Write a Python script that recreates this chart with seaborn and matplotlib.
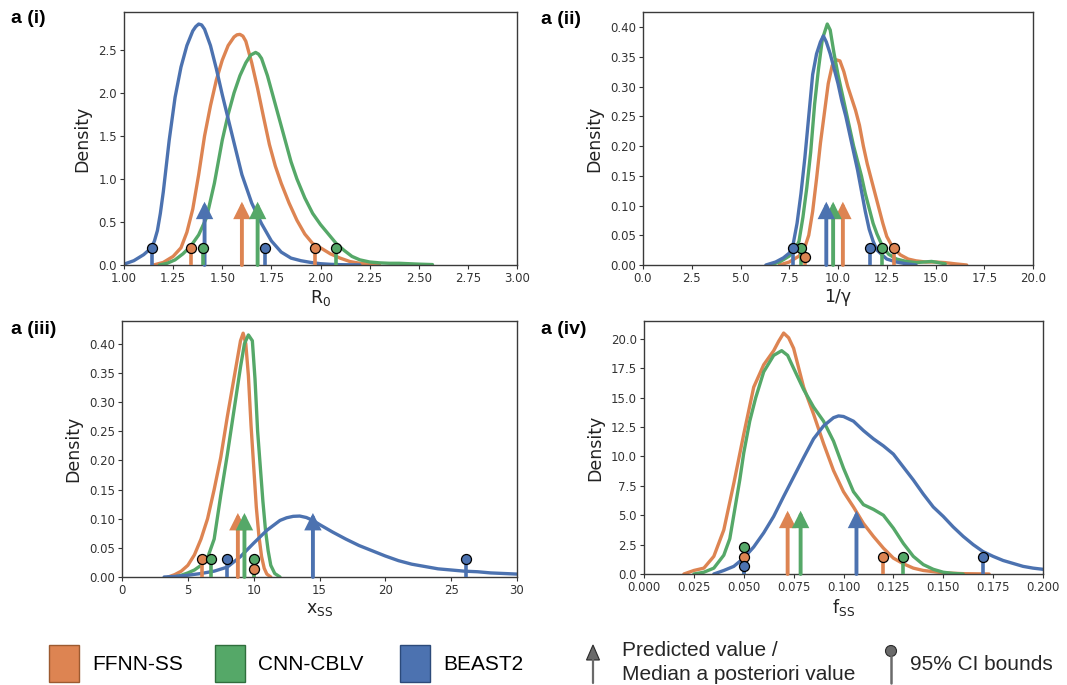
import numpy as np
import pandas as pd
import matplotlib
matplotlib.use("Agg")
import matplotlib.pyplot as plt
import seaborn as sns
from matplotlib.patches import Rectangle, Polygon, Circle

# ---------------------------------------------------------------- data
METHODS = ["FFNN-SS", "CNN-CBLV", "BEAST2"]

# Panel a(i): R0
R0_FFNN_X = [1.15, 1.20, 1.25, 1.29, 1.32, 1.35, 1.38, 1.41, 1.44, 1.47, 1.50, 1.53, 1.56, 1.575, 1.59, 1.605,
             1.62, 1.65, 1.68, 1.71, 1.74, 1.77, 1.80, 1.84, 1.88, 1.92, 1.96, 2.00, 2.05, 2.10, 2.15, 2.20,
             2.25, 2.30]
R0_FFNN_Y = [0.0, 0.03, 0.1, 0.2, 0.38, 0.65, 1.05, 1.5, 1.85, 2.15, 2.38, 2.55, 2.65, 2.675, 2.68, 2.66,
             2.6, 2.35, 2.05, 1.72, 1.4, 1.15, 0.95, 0.72, 0.52, 0.36, 0.25, 0.2, 0.13, 0.08, 0.04, 0.02,
             0.01, 0.003]
R0_CNN_X = [1.18, 1.22, 1.26, 1.30, 1.34, 1.38, 1.42, 1.46, 1.50, 1.53, 1.56, 1.59, 1.62, 1.645, 1.67, 1.685,
            1.70, 1.73, 1.76, 1.79, 1.82, 1.85, 1.88, 1.92, 1.96, 2.00, 2.04, 2.08, 2.12, 2.16, 2.20, 2.25,
            2.30, 2.35, 2.40, 2.45, 2.50, 2.57]
R0_CNN_Y = [0.0, 0.02, 0.06, 0.13, 0.22, 0.35, 0.55, 0.95, 1.45, 1.75, 2.0, 2.2, 2.35, 2.44, 2.47, 2.45,
            2.4, 2.2, 1.95, 1.7, 1.45, 1.2, 1.0, 0.78, 0.6, 0.47, 0.36, 0.25, 0.17, 0.1, 0.06, 0.035,
            0.025, 0.02, 0.02, 0.015, 0.01, 0.005]
R0_BEAST_X = [1.00, 1.05, 1.10, 1.14, 1.155, 1.17, 1.185, 1.20, 1.23, 1.26, 1.29, 1.32, 1.35, 1.365, 1.38,
              1.395, 1.41, 1.44, 1.47, 1.50, 1.53, 1.56, 1.60, 1.65, 1.70, 1.75, 1.80, 1.85, 1.90, 1.95,
              2.00, 2.05, 2.10, 2.20]
R0_BEAST_Y = [0.01, 0.05, 0.12, 0.2, 0.28, 0.4, 0.6, 0.85, 1.45, 1.95, 2.3, 2.55, 2.72, 2.77, 2.8,
              2.79, 2.74, 2.55, 2.28, 1.98, 1.7, 1.42, 1.05, 0.72, 0.48, 0.28, 0.15, 0.08, 0.05, 0.03,
              0.015, 0.008, 0.004, 0.001]

# Panel a(ii): 1/gamma
G_FFNN_X = [7.0, 7.5, 8.0, 8.3, 8.5, 8.7, 8.9, 9.1, 9.3, 9.5, 9.7, 9.9, 10.1, 10.3, 10.5, 10.7, 10.9,
            11.1, 11.3, 11.5, 11.7, 11.9, 12.1, 12.3, 12.5, 12.8, 13.2, 13.6, 14.0, 14.5, 15.0, 15.5, 16.0, 16.6]
G_FFNN_Y = [0.0, 0.005, 0.015, 0.03, 0.05, 0.09, 0.145, 0.205, 0.255, 0.305, 0.335, 0.345, 0.343, 0.325,
            0.3, 0.28, 0.26, 0.235, 0.2, 0.17, 0.145, 0.12, 0.095, 0.07, 0.048, 0.03, 0.017, 0.01, 0.007,
            0.005, 0.005, 0.004, 0.002, 0.0]
G_CNN_X = [6.5, 7.0, 7.5, 7.8, 8.0, 8.2, 8.4, 8.6, 8.8, 9.0, 9.2, 9.45, 9.6, 9.8, 10.0, 10.2, 10.4, 10.6,
           10.8, 11.0, 11.2, 11.4, 11.6, 11.8, 12.0, 12.3, 12.6, 13.0, 13.5, 14.0, 14.8, 15.5]
G_CNN_Y = [0.0, 0.005, 0.015, 0.025, 0.04, 0.08, 0.13, 0.19, 0.27, 0.33, 0.38, 0.405, 0.395, 0.355, 0.32,
           0.29, 0.26, 0.23, 0.2, 0.175, 0.15, 0.12, 0.095, 0.07, 0.052, 0.03, 0.018, 0.01, 0.006, 0.004,
           0.006, 0.002]
G_BEAST_X = [6.3, 6.8, 7.2, 7.5, 7.7, 7.9, 8.1, 8.3, 8.5, 8.7, 8.9, 9.1, 9.25, 9.4, 9.6, 9.8, 10.0, 10.2,
             10.4, 10.6, 10.8, 11.0, 11.2, 11.4, 11.6, 11.8, 12.0, 12.5, 13.0, 13.5, 14.0]
G_BEAST_Y = [0.0, 0.005, 0.012, 0.02, 0.035, 0.07, 0.12, 0.18, 0.25, 0.32, 0.355, 0.375, 0.385, 0.375,
             0.355, 0.33, 0.305, 0.275, 0.25, 0.22, 0.19, 0.16, 0.125, 0.09, 0.06, 0.04, 0.025, 0.01,
             0.005, 0.002, 0.0]

# Panel a(iii): x_SS
X_FFNN_X = [3.5, 4.0, 4.5, 5.0, 5.5, 6.0, 6.5, 7.0, 7.5, 8.0, 8.5, 9.0, 9.2, 9.4, 9.6, 9.8, 10.0, 10.2,
            10.4, 10.6, 10.8, 11.0, 11.3]
X_FFNN_Y = [0.0, 0.004, 0.01, 0.02, 0.038, 0.065, 0.1, 0.15, 0.205, 0.275, 0.34, 0.405, 0.418, 0.4, 0.345,
            0.26, 0.19, 0.12, 0.07, 0.035, 0.015, 0.005, 0.0]
X_CNN_X = [4.0, 4.5, 5.0, 5.5, 6.0, 6.5, 7.0, 7.5, 8.0, 8.5, 9.0, 9.3, 9.6, 9.9, 10.1, 10.3, 10.5, 10.7,
           10.9, 11.1, 11.3, 11.6, 12.0]
X_CNN_Y = [0.0, 0.003, 0.007, 0.012, 0.02, 0.033, 0.065, 0.14, 0.21, 0.285, 0.36, 0.4, 0.415, 0.405, 0.34,
           0.25, 0.19, 0.13, 0.08, 0.045, 0.02, 0.006, 0.0]
X_BEAST_X = [3.2, 4.0, 5.0, 6.0, 7.0, 8.0, 9.0, 10.0, 11.0, 12.0, 12.5, 13.0, 13.5, 14.0, 14.5, 15.0, 16.0,
             17.0, 18.0, 19.0, 20.0, 21.0, 22.0, 23.0, 24.0, 25.0, 26.0, 27.0, 28.0, 29.0, 30.0]
X_BEAST_Y = [0.0, 0.001, 0.003, 0.006, 0.01, 0.017, 0.035, 0.058, 0.08, 0.097, 0.1015, 0.104, 0.1045,
             0.102, 0.097, 0.09, 0.077, 0.065, 0.054, 0.045, 0.036, 0.028, 0.022, 0.018, 0.014, 0.012,
             0.01, 0.009, 0.007, 0.006, 0.005]

# Panel a(iv): f_SS
F_FFNN_X = [0.020, 0.025, 0.030, 0.035, 0.040, 0.045, 0.050, 0.055, 0.060, 0.065, 0.0675, 0.070, 0.0725,
            0.075, 0.080, 0.085, 0.090, 0.095, 0.100, 0.105, 0.110, 0.115, 0.120, 0.125, 0.130, 0.135,
            0.140, 0.150, 0.160, 0.173]
F_FFNN_Y = [0.0, 0.3, 0.5, 1.5, 3.75, 7.7, 11.9, 15.9, 17.8, 19.0, 19.8, 20.5, 20.1, 19.2, 15.9, 13.6, 11.1,
            8.8, 7.0, 5.7, 4.3, 3.2, 2.2, 1.35, 0.87, 0.5, 0.3, 0.1, 0.03, 0.0]
F_CNN_X = [0.025, 0.030, 0.035, 0.040, 0.043, 0.045, 0.048, 0.050, 0.053, 0.056, 0.060, 0.065, 0.069,
           0.072, 0.075, 0.080, 0.085, 0.090, 0.095, 0.100, 0.105, 0.110, 0.115, 0.120, 0.125, 0.130,
           0.135, 0.140, 0.145, 0.150, 0.155, 0.160]
F_CNN_Y = [0.0, 0.15, 0.5, 1.6, 3.0, 5.0, 8.0, 10.3, 13.0, 15.0, 17.2, 18.6, 19.0, 18.6, 17.5, 15.7, 14.2,
           13.0, 11.3, 9.0, 7.0, 5.9, 5.5, 5.0, 3.9, 2.6, 1.5, 0.8, 0.4, 0.15, 0.05, 0.0]
F_BEAST_X = [0.035, 0.040, 0.045, 0.050, 0.055, 0.060, 0.065, 0.070, 0.075, 0.080, 0.085, 0.090, 0.095,
             0.0975, 0.100, 0.105, 0.110, 0.115, 0.120, 0.125, 0.130, 0.135, 0.140, 0.145, 0.150, 0.155,
             0.160, 0.165, 0.170, 0.175, 0.180, 0.185, 0.190, 0.195, 0.200]
F_BEAST_Y = [0.0, 0.3, 0.65, 1.35, 2.3, 3.5, 4.9, 6.6, 8.25, 9.9, 11.5, 12.6, 13.3, 13.45, 13.4, 13.0, 12.2,
             11.5, 10.9, 10.2, 9.1, 8.0, 6.8, 5.7, 4.9, 4.0, 3.2, 2.5, 1.9, 1.5, 1.15, 0.9, 0.65, 0.5, 0.4]

# Predicted values / median a posteriori values  (FFNN-SS, CNN-CBLV, BEAST2)
PRED_R0 = [1.60, 1.68, 1.41]
PRED_G = [10.25, 9.75, 9.4]
PRED_X = [8.8, 9.3, 14.5]
PRED_F = [0.072, 0.0785, 0.1065]

# 95% CI bounds (lower, upper), same order
CI_LO_R0 = [1.34, 1.40, 1.14]
CI_HI_R0 = [1.97, 2.08, 1.72]
CI_LO_G = [8.3, 8.1, 7.7]
CI_HI_G = [12.85, 12.25, 11.65]
CI_LO_X = [6.1, 6.75, 8.0]
CI_HI_X = [10.0, 10.0, 26.1]
CI_LO_F = [0.05, 0.05, 0.05]
CI_HI_F = [0.12, 0.13, 0.17]

# tick values
XT_R0 = [1.00, 1.25, 1.50, 1.75, 2.00, 2.25, 2.50, 2.75, 3.00]
YT_R0 = [0.0, 0.5, 1.0, 1.5, 2.0, 2.5]
XT_G = [0.0, 2.5, 5.0, 7.5, 10.0, 12.5, 15.0, 17.5, 20.0]
YT_G = [0.00, 0.05, 0.10, 0.15, 0.20, 0.25, 0.30, 0.35, 0.40]
XT_X = [0, 5, 10, 15, 20, 25, 30]
YT_X = [0.00, 0.05, 0.10, 0.15, 0.20, 0.25, 0.30, 0.35, 0.40]
XT_F = [0.000, 0.025, 0.050, 0.075, 0.100, 0.125, 0.150, 0.175, 0.200]
YT_F = [0.0, 2.5, 5.0, 7.5, 10.0, 12.5, 15.0, 17.5, 20.0]

# ---------------------------------------------------------------- style
sns.set_style("ticks")
plt.rcParams["font.family"] = ["DejaVu Sans"]
deep = sns.color_palette("deep")
COLORS = {"FFNN-SS": deep[1], "CNN-CBLV": deep[2], "BEAST2": deep[0]}
EDGE = {"FFNN-SS": "#9c5a30", "CNN-CBLV": "#2f6e3c", "BEAST2": "#2c4a7a"}
SPINE = "#3a3a3a"
LABEL_FONT = ["Liberation Sans", "DejaVu Sans"]

ARROW_TIP = 0.25      # axes fraction
CI_BASE = 0.069       # axes fraction
CI_STEP = 0.037
# stacking of overlapping CI markers: (panel, method index, 'lo'/'hi') -> step
CI_STACK = {(1, 0, "lo"): -1, (2, 0, "hi"): -1, (3, 1, "lo"): 1, (3, 2, "lo"): -1}

W, H = 1067, 685
fig = plt.figure(figsize=(W / 100, H / 100), dpi=100)

rects = [
    [124 / W, 1 - 265 / H, 393 / W, 253 / H],
    [643 / W, 1 - 265 / H, 390 / W, 253 / H],
    [122 / W, 1 - 577 / H, 395 / W, 256 / H],
    [644 / W, 1 - 574 / H, 399 / W, 253 / H],
]

panels = [
    dict(curves=[(R0_FFNN_X, R0_FFNN_Y), (R0_CNN_X, R0_CNN_Y), (R0_BEAST_X, R0_BEAST_Y)],
         pred=PRED_R0, lo=CI_LO_R0, hi=CI_HI_R0, xt=XT_R0, yt=YT_R0, xlim=(1.0, 3.0),
         xlabel="R$_\\mathregular{0}$", tag="a (i)"),
    dict(curves=[(G_FFNN_X, G_FFNN_Y), (G_CNN_X, G_CNN_Y), (G_BEAST_X, G_BEAST_Y)],
         pred=PRED_G, lo=CI_LO_G, hi=CI_HI_G, xt=XT_G, yt=YT_G, xlim=(0.0, 20.0),
         xlabel="1/\u03b3", tag="a (ii)"),
    dict(curves=[(X_FFNN_X, X_FFNN_Y), (X_CNN_X, X_CNN_Y), (X_BEAST_X, X_BEAST_Y)],
         pred=PRED_X, lo=CI_LO_X, hi=CI_HI_X, xt=XT_X, yt=YT_X, xlim=(0, 30),
         xlabel="x$_\\mathregular{SS}$", tag="a (iii)"),
    dict(curves=[(F_FFNN_X, F_FFNN_Y), (F_CNN_X, F_CNN_Y), (F_BEAST_X, F_BEAST_Y)],
         pred=PRED_F, lo=CI_LO_F, hi=CI_HI_F, xt=XT_F, yt=YT_F, xlim=(0.0, 0.2),
         xlabel="f$_\\mathregular{SS}$", tag="a (iv)"),
]
tag_pos = [(11, 10), (541, 11), (11, 321), (541, 321)]

for pi, (p, r) in enumerate(zip(panels, rects)):
    ax = fig.add_axes(r)
    frames = []
    for m, (xs, ys) in zip(METHODS, p["curves"]):
        frames.append(pd.DataFrame({"x": xs, "density": ys, "method": m}))
    df = pd.concat(frames, ignore_index=True)
    sns.lineplot(data=df, x="x", y="density", hue="method", hue_order=METHODS, palette=COLORS,
                 linewidth=2.4, errorbar=None, legend=False, ax=ax)
    for ln in ax.get_lines():
        ln.set_solid_joinstyle("round")
    ymax = df["density"].max() * 1.05
    ax.set_ylim(0, ymax)
    ax.set_xlim(*p["xlim"])
    ax.set_xticks(p["xt"])
    ax.set_yticks(p["yt"])
    trans = ax.get_xaxis_transform()
    # predicted value arrows
    for mi, m in enumerate(METHODS):
        ax.annotate("", xy=(p["pred"][mi], ARROW_TIP), xytext=(p["pred"][mi], 0),
                    xycoords=trans, textcoords=trans,
                    arrowprops=dict(arrowstyle="-|>,head_length=0.8,head_width=0.4",
                                    color=COLORS[m], lw=2.8, shrinkA=0, shrinkB=0,
                                    joinstyle="miter"), zorder=4)
    # CI bounds
    for mi, m in enumerate(METHODS):
        for side, val in (("lo", p["lo"][mi]), ("hi", p["hi"][mi])):
            lvl = CI_BASE + CI_STEP * CI_STACK.get((pi, mi, side), 0)
            ax.plot([val, val], [0, lvl], transform=trans, color=COLORS[m], lw=2.6,
                    solid_capstyle="butt", zorder=5)
            ax.plot([val], [lvl], transform=trans, marker="o", ms=7.2, mfc=COLORS[m],
                    mec="black", mew=0.9, zorder=6, clip_on=False)
    ax.set_xlabel(p["xlabel"], fontsize=12.5, color="#222222", labelpad=2)
    ax.set_ylabel("Density", fontsize=12.5, color="#222222", labelpad=5)
    ax.tick_params(labelsize=8.5, colors="#333333", length=3, width=0.8, pad=2)
    for s in ax.spines.values():
        s.set_color(SPINE)
        s.set_linewidth(1.0)
    tx, ty = tag_pos[pi]
    fig.text(tx / W, 1 - ty / H, p["tag"], ha="left", va="top", fontsize=14,
             fontweight="bold", family=LABEL_FONT, color="black")

# ---------------------------------------------------------------- legend
lax = fig.add_axes([0, 0, 1, 65 / H])
lax.set_xlim(0, W)
lax.set_ylim(H, H - 65)
lax.axis("off")
leg_items = [(49, 92, "FFNN-SS"), (215, 258, "CNN-CBLV"), (400, 443, "BEAST2")]
for (rx, tx, name) in leg_items:
    lax.add_patch(Rectangle((rx, 645), 30, 37, facecolor=COLORS[name], edgecolor=EDGE[name], lw=1.0))
    lax.text(tx, 664, name, ha="left", va="center", fontsize=15, family=LABEL_FONT, color="black")
# arrow icon
lax.plot([593, 593], [659, 683], color="#6a6a6a", lw=1.6)
lax.add_patch(Polygon([(586.5, 660), (599.5, 660), (593, 645)], closed=True,
                      facecolor="#6a6a6a", edgecolor="#2a2a2a", lw=0.8))
lax.text(622, 650, "Predicted value /", ha="left", va="center", fontsize=15, family=LABEL_FONT)
lax.text(622, 675, "Median a posteriori value", ha="left", va="center", fontsize=15, family=LABEL_FONT)
# pin icon
lax.plot([891, 891], [656, 683], color="#6a6a6a", lw=1.8)
lax.add_patch(Circle((891, 651), 5.5, facecolor="#6a6a6a", edgecolor="#2a2a2a", lw=0.8))
lax.text(910, 664, "95% CI bounds", ha="left", va="center", fontsize=15, family=LABEL_FONT)

fig.savefig("out.png", dpi=100)
